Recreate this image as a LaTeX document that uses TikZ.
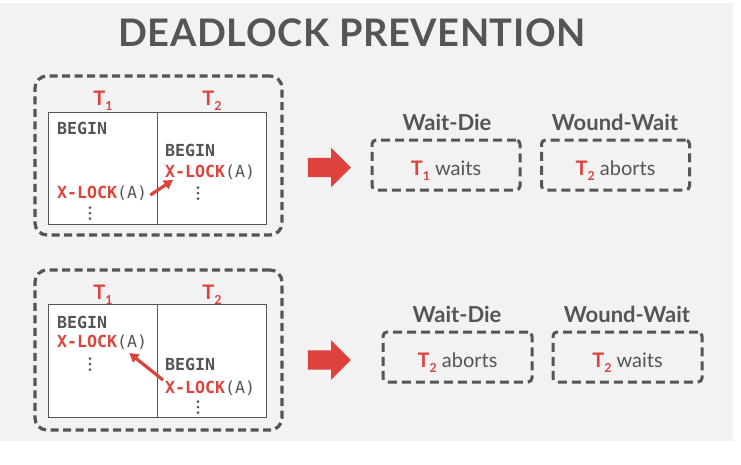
\documentclass[tikz,border=0pt]{standalone}
\usepackage{fontspec}
\setmainfont{Lato}
\newfontfamily\titlefont[LetterSpace=1.5]{Lato}
\setmonofont{DejaVu Sans Mono}
\usetikzlibrary{arrows.meta,shapes.arrows}
\definecolor{dbred}{RGB}{222,66,60}
\definecolor{dbgray}{RGB}{85,85,85}
\definecolor{bgc}{RGB}{242,242,242}
\newcommand{\Tsub}[1]{\textcolor{dbred}{\bfseries T\raisebox{-0.28em}{\fontsize{0.62em}{1em}\selectfont #1}}}
\newcommand{\xlock}{\textcolor{dbred}{X-LOCK}{\mdseries(A)}}
\tikzset{
  outerbox/.style={draw=dbgray, line width=3.2pt, dash pattern=on 8pt off 4.5pt, rounded corners=12pt, minimum width=247pt, inner sep=0pt},
  choicebox/.style={draw=dbgray, line width=3pt, dash pattern=on 9pt off 5pt, rounded corners=4pt, minimum width=148pt, minimum height=50pt, inner sep=0pt, text=dbgray, font=\fontsize{20}{22}\selectfont, text height=20pt, text depth=0pt},
  col/.style={draw=dbgray, line width=0.8pt, fill=white, minimum width=109pt, inner sep=0pt},
  code/.style={anchor=west, inner sep=0pt, text=dbgray, font=\ttfamily\bfseries\fontsize{16.6}{18}\selectfont},
  dotc/.style={fill=dbgray},
  tlabel/.style={inner sep=0pt, anchor=base, font=\fontsize{20}{22}\selectfont},
  schemelabel/.style={inner sep=0pt, anchor=base, text=dbgray, font=\bfseries\fontsize{22}{24}\selectfont},
  lockarrow/.style={draw=dbred, line width=3.2pt, -{Triangle[length=9pt,width=10pt]}},
  bigarrow/.style={single arrow, fill=dbred, minimum height=43pt, minimum width=39pt, inner sep=9.5pt, single arrow head extend=10pt},
}
\newcommand{\vdotsat}[2]{\fill[dotc] (#1,#2-5.5) circle (1.5pt) (#1,#2) circle (1.5pt) (#1,#2+5.5) circle (1.5pt);}
\begin{document}
\begin{tikzpicture}[x=1pt,y=-1pt]
\useasboundingbox (0,0) rectangle (741,464);
\fill[bgc] (0,3) rectangle (733,441);
\node[text=dbgray, font=\titlefont\bfseries\fontsize{38}{40}\selectfont] (title) at (352,33) {DEADLOCK PREVENTION};

% ---------- top scenario ----------
\node[outerbox, minimum height=159pt] (outer1) at (158.5,155.5) {};
\node[col, minimum height=112pt] (c1a) at (102.5,168) {};
\node[col, minimum height=112pt] (c1b) at (211.5,168) {};
\node[tlabel] (t1a) at (103,105) {\Tsub{1}};
\node[tlabel] (t1b) at (212,105) {\Tsub{2}};
\node[code] (b1a) at (57,128) {BEGIN};
\node[code] (xl1) at (57,193) {\xlock};
\vdotsat{90}{213}
\node[code] (b1b) at (165,150) {BEGIN};
\node[code] (xr1) at (165,172) {\xlock};
\vdotsat{198}{193}
\draw[lockarrow] ([shift={(3,2)}]xl1.east) -- ([shift={(8,8)}]xr1.west);

\node[bigarrow] (big1) at (324.5,167.5) {};
\node[schemelabel] (wd1) at (447,130) {Wait-Die};
\node[schemelabel] (ww1) at (615,130) {Wound-Wait};
\node[choicebox] (wdb1) at (446,165) {\Tsub{1} waits};
\node[choicebox] (wwb1) at (615.5,165) {\Tsub{2} aborts};

% ---------- bottom scenario ----------
\node[outerbox, minimum height=160pt] (outer2) at (158.5,350) {};
\node[col, minimum height=113pt] (c2a) at (102.5,360.5) {};
\node[col, minimum height=113pt] (c2b) at (211.5,360.5) {};
\node[tlabel] (t2a) at (103,299) {\Tsub{1}};
\node[tlabel] (t2b) at (212,299) {\Tsub{2}};
\node[code] (b2a) at (57,322) {BEGIN};
\node[code] (xl2) at (57,342) {\xlock};
\vdotsat{90}{364}
\node[code] (b2b) at (165,364) {BEGIN};
\node[code] (xr2) at (165,388) {\xlock};
\vdotsat{198}{407}
\draw[lockarrow] ([shift={(-2,-8)}]xr2.west) -- ([shift={(-18,11)}]xl2.east);

\node[bigarrow] (big2) at (324.5,360) {};
\node[schemelabel] (wd2) at (457,322) {Wait-Die};
\node[schemelabel] (ww2) at (627,322) {Wound-Wait};
\node[choicebox, minimum width=149pt] (wdb2) at (457.5,357) {\Tsub{2} aborts};
\node[choicebox, minimum width=149pt] (wwb2) at (627.5,357) {\Tsub{2} waits};
\end{tikzpicture}
\end{document}
